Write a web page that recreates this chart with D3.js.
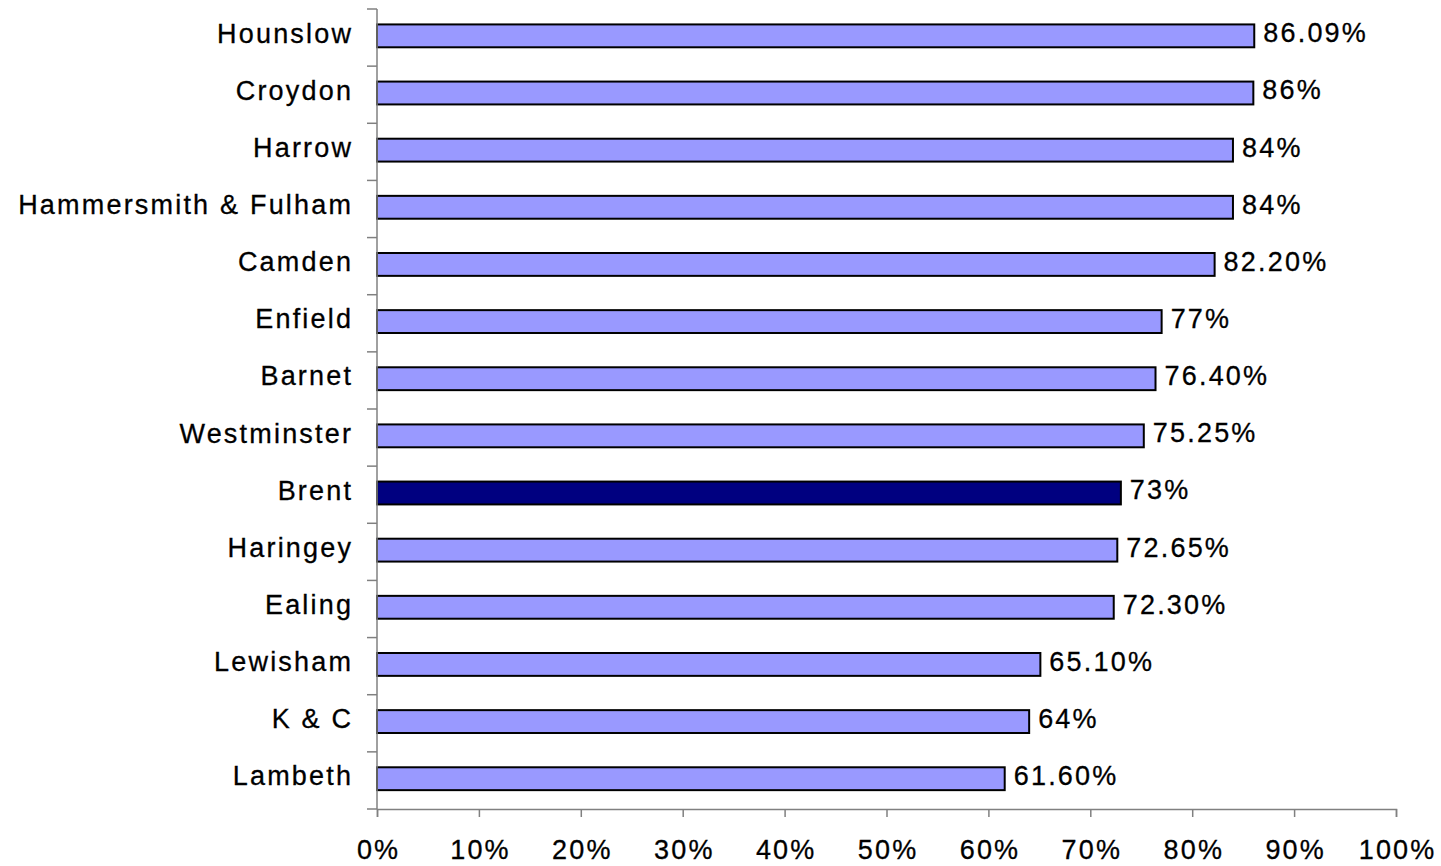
<!DOCTYPE html>
<meta charset="UTF-8">
<head>
    <title>Borough bar chart</title>
</head>
<style>
    body {
        margin: 0;
        background: #fff;
    }

    text {
        font-family: "Liberation Sans", Arial, sans-serif;
        fill: #000;
        stroke: #000;
        stroke-width: 0.3px;
    }
</style>
<body>
    <div id="chart"></div>
    <script src="https://d3js.org/d3.v7.min.js"></script>
    <script>
        // data
        var boroughs = ["Hounslow", "Croydon", "Harrow", "Hammersmith & Fulham", "Camden", "Enfield", "Barnet",
            "Westminster", "Brent", "Haringey", "Ealing", "Lewisham", "K & C", "Lambeth"];
        var values = [86.09, 86, 84, 84, 82.2, 77, 76.4, 75.25, 73, 72.65, 72.3, 65.1, 64, 61.6];
        var valueLabels = ["86.09%", "86%", "84%", "84%", "82.20%", "77%", "76.40%", "75.25%", "73%",
            "72.65%", "72.30%", "65.10%", "64%", "61.60%"];
        var highlight = "Brent";
        var xTicks = [0, 10, 20, 30, 40, 50, 60, 70, 80, 90, 100];

        var w = 1441;
        var h = 866;
        var mLeft = 377, mRight = 1396, mTop = 9, mBottom = 809;
        var fontSize = "27px", spacing = 2.2;

        var svg = d3.select("#chart")
            .append("svg")
            .attr("width", w)
            .attr("height", h);

        var x = d3.scaleLinear().domain([0, 100]).range([mLeft, mRight]);
        var y = d3.scaleBand().domain(boroughs).range([mTop, mBottom])
            .paddingInner(0.6).paddingOuter(0.3).align(0.45);

        var data = boroughs.map(function (b, i) {
            return { name: b, value: values[i], label: valueLabels[i] };
        });

        // bars
        svg.selectAll("rect.bar")
            .data(data)
            .enter()
            .append("rect")
            .attr("class", "bar")
            .attr("x", x(0))
            .attr("y", function (d) { return y(d.name); })
            .attr("width", function (d) { return x(d.value) - x(0); })
            .attr("height", y.bandwidth())
            .attr("fill", function (d) { return d.name === highlight ? "#000080" : "#9999ff"; })
            .attr("stroke", "#000")
            .attr("stroke-width", 2);

        // value labels
        svg.selectAll("text.val")
            .data(data)
            .enter()
            .append("text")
            .attr("class", "val")
            .attr("x", function (d) { return x(d.value) + 9; })
            .attr("y", function (d) { return y(d.name) + y.bandwidth() / 2; })
            .attr("dy", "0.24em")
            .style("font-size", fontSize)
            .style("letter-spacing", spacing + "px")
            .text(function (d) { return d.label; });

        // y axis (ticks between categories)
        var band = (mBottom - mTop) / boroughs.length;
        var yAxis = svg.append("g");
        yAxis.append("line")
            .attr("x1", mLeft).attr("x2", mLeft)
            .attr("y1", mTop).attr("y2", mBottom)
            .attr("stroke", "#808080").attr("stroke-width", 1.5);
        yAxis.selectAll("line.tick")
            .data(d3.range(boroughs.length + 1))
            .enter()
            .append("line")
            .attr("class", "tick")
            .attr("x1", mLeft - 10).attr("x2", mLeft)
            .attr("y1", function (i) { return mTop + i * band; })
            .attr("y2", function (i) { return mTop + i * band; })
            .attr("stroke", "#808080").attr("stroke-width", 1.5);
        yAxis.selectAll("text")
            .data(boroughs)
            .enter()
            .append("text")
            .attr("x", 351 + spacing)
            .attr("y", function (d) { return y(d) + y.bandwidth() / 2; })
            .attr("dy", "0.25em")
            .attr("text-anchor", "end")
            .style("font-size", fontSize)
            .style("letter-spacing", spacing + "px")
            .text(function (d) { return d; });

        // x axis
        var xAxis = svg.append("g")
            .attr("transform", "translate(0," + mBottom + ")")
            .call(d3.axisBottom(x).tickValues(xTicks).tickSize(8).tickPadding(22.8)
                .tickFormat(function (d) { return d + "%"; }));
        xAxis.select(".domain").attr("stroke", "#808080").attr("stroke-width", 1.5);
        xAxis.selectAll(".tick line").attr("stroke", "#808080").attr("stroke-width", 1.5);
        xAxis.selectAll(".tick text")
            .style("font-family", "'Liberation Sans', Arial, sans-serif")
            .style("font-size", fontSize)
            .style("letter-spacing", spacing + "px")
            .style("stroke", "#000")
            .style("stroke-width", "0.3px")
            .attr("dx", spacing / 2)
            .attr("fill", "#000");
    </script>
</body>
</html>
